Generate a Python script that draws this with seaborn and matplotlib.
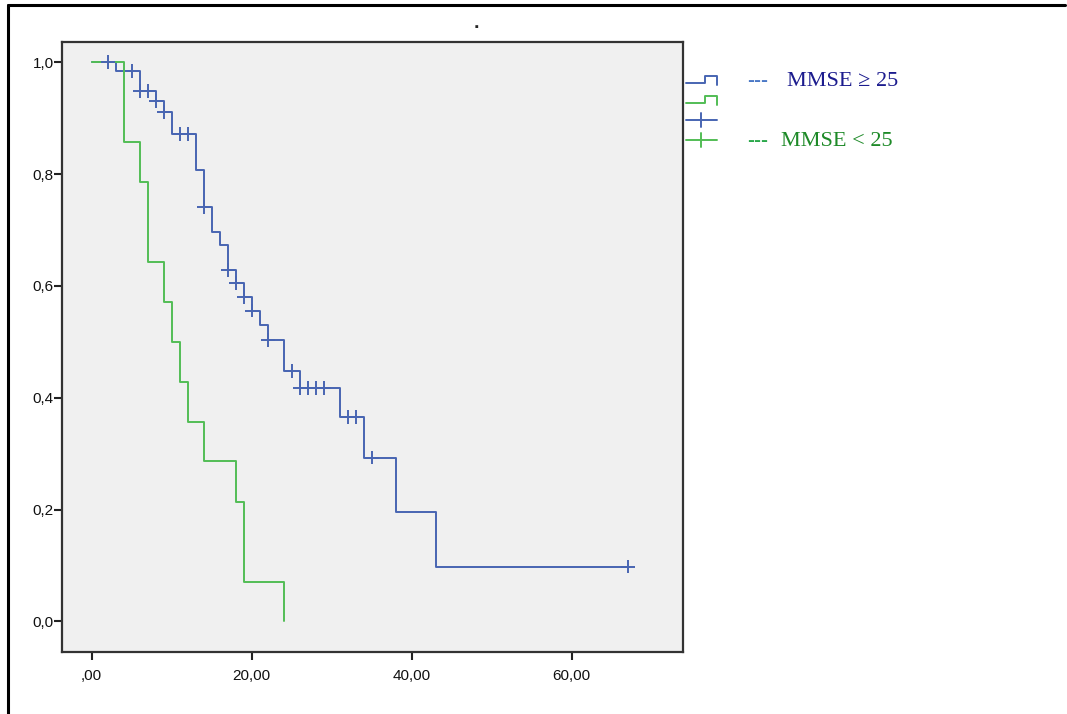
import numpy as np
import pandas as pd
import matplotlib
matplotlib.use("Agg")
import matplotlib.pyplot as plt
import seaborn as sns
from matplotlib.lines import Line2D
from matplotlib.ticker import FuncFormatter

# Kaplan-Meier steps
high_times = [0, 3, 6, 8, 9, 10, 13, 14, 15, 16, 17, 18, 19, 20, 21, 22, 24, 26, 31, 34, 38, 43, 67]
high_surv = [1.0, 0.984, 0.949, 0.931, 0.912, 0.872, 0.807, 0.742, 0.696, 0.674, 0.629, 0.606,
             0.581, 0.556, 0.530, 0.504, 0.448, 0.418, 0.366, 0.293, 0.195, 0.098, 0.098]
high_censored = [2, 5, 6, 7, 8, 9, 11, 12, 14, 17, 18, 19, 20, 22, 25, 26, 27, 28, 29, 32, 33, 35, 67]

low_times = [0, 4, 6, 7, 9, 10, 11, 12, 14, 18, 19, 24]
low_surv = [1.0, 0.857, 0.786, 0.643, 0.571, 0.500, 0.429, 0.357, 0.286, 0.214, 0.071, 0.0]
low_censored = []

x_ticks = [0, 20, 40, 60]
y_ticks = [0.0, 0.2, 0.4, 0.6, 0.8, 1.0]

blue = "#4865b2"
green = "#52bd55"


def censor_levels(times, surv, cens):
    idx = np.searchsorted(times, cens, side="right") - 1
    return [surv[i] for i in idx]


curves = pd.concat([
    pd.DataFrame({"time": high_times, "surv": high_surv, "group": "high"}),
    pd.DataFrame({"time": low_times, "surv": low_surv, "group": "low"}),
])
marks = pd.DataFrame({
    "time": high_censored + low_censored,
    "surv": censor_levels(high_times, high_surv, high_censored)
    + censor_levels(low_times, low_surv, low_censored),
    "group": ["high"] * len(high_censored) + ["low"] * len(low_censored),
})

sns.set_theme(style="white")
plt.rcParams["font.family"] = ["Liberation Sans", "DejaVu Sans"]

fig = plt.figure(figsize=(10.67, 7.14), dpi=100)
ax = fig.add_axes([0.0581, 0.0868, 0.582, 0.854])
ax.set_facecolor("#f0f0f0")

palette = {"high": blue, "low": green}
sns.lineplot(data=curves, x="time", y="surv", hue="group", palette=palette,
             estimator=None, sort=False, drawstyle="steps-post", linewidth=1.4,
             legend=False, ax=ax)
sns.scatterplot(data=marks, x="time", y="surv", hue="group", palette=palette,
                marker="+", s=100, linewidth=1.4, legend=False, ax=ax, zorder=3)

ax.set_xlim(-3.7, 73.9)
ax.set_ylim(-0.055, 1.036)
ax.set_xticks(x_ticks)
ax.set_yticks(y_ticks)
ax.xaxis.set_major_formatter(FuncFormatter(lambda v, p: ",00" if v == 0 else f"{v:.2f}".replace(".", ",")))
ax.yaxis.set_major_formatter(FuncFormatter(lambda v, p: f"{v:.1f}".replace(".", ",")))
ax.tick_params(axis="both", direction="out", length=6, width=1.5, color="#222222",
               labelsize=11, labelcolor="#111111", bottom=True, left=True)
ax.tick_params(axis="x", pad=6)
ax.tick_params(axis="y", pad=0)
ax.set_xlabel("")
ax.set_ylabel("")
for sp in ax.spines.values():
    sp.set_color("#333333")
    sp.set_linewidth(1.6)

# title is just a dot
fig.text(0.446, 1 - 24 / 714, ".", ha="center", va="center", fontsize=14, fontweight="bold")

# legend drawn by hand to the right of the plot
def px(x, y):
    return x / 1067, 1 - y / 714

for (y_low, y_high), col in [((83, 76), blue), ((103, 96), green)]:
    xs = [686, 705, 705, 717, 717]
    ys = [y_low, y_low, y_high, y_high, y_low + 2]
    pts = [px(a, b) for a, b in zip(xs, ys)]
    fig.add_artist(Line2D([p[0] for p in pts], [p[1] for p in pts], color=col, lw=1.4))
for yy, col in [(120, blue), (140, green)]:
    a, b = px(686, yy)
    c, d = px(717, yy)
    fig.add_artist(Line2D([a, c], [b, d], color=col, lw=1.4))
    e, f = px(701, yy - 7)
    g, h = px(701, yy + 7)
    fig.add_artist(Line2D([e, g], [f, h], color=col, lw=1.4))

serif = ["Liberation Serif", "DejaVu Serif"]
sans = ["Liberation Sans", "DejaVu Sans"]
fig.text(747 / 1067, 1 - 81 / 714, "---", color="#4a78c6", fontsize=15, va="center",
         family=sans, fontweight="bold")
fig.text(787 / 1067, 1 - 81 / 714, "MMSE \u2265 25", color="#1c1c8e", fontsize=16, va="center", family=serif)
fig.text(747 / 1067, 1 - 141 / 714, "---", color="#2aa84a", fontsize=15, va="center",
         family=sans, fontweight="bold")
fig.text(781 / 1067, 1 - 141 / 714, "MMSE < 25", color="#1e8a28", fontsize=16, va="center", family=serif)

# outer frame of the screenshot
fig.add_artist(Line2D([8 / 1067, 8 / 1067], [0, 1 - 5 / 714], color="black", lw=2.2))
fig.add_artist(Line2D([8 / 1067, 1065 / 1067], [1 - 5 / 714, 1 - 5 / 714], color="black", lw=2.2))

fig.savefig("out.png", dpi=100, facecolor="white")
plt.close(fig)
